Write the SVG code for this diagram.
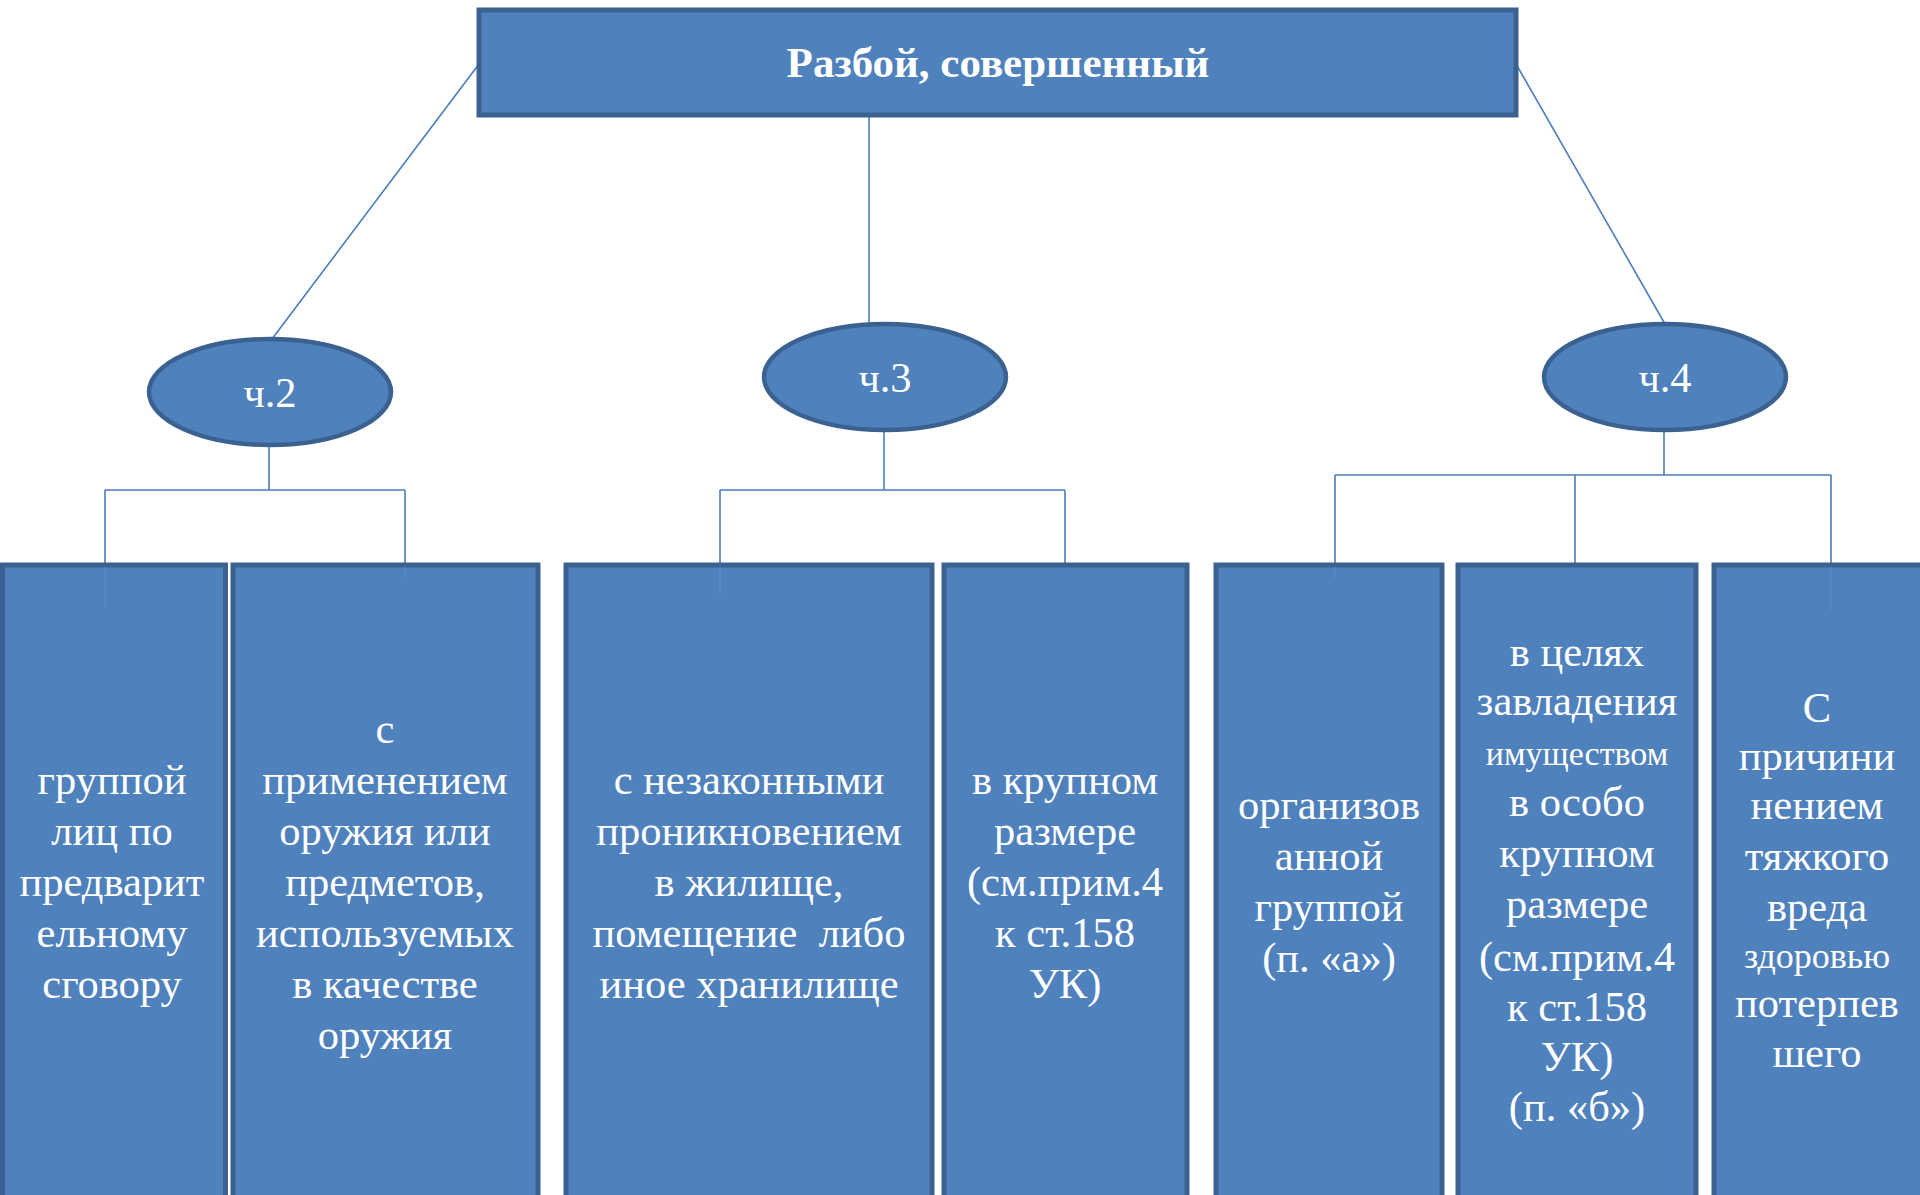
<svg xmlns="http://www.w3.org/2000/svg" width="1920" height="1195" viewBox="0 0 1920 1195">
<style>
.box{fill:#4f81bd;stroke:#3a6190;stroke-width:5}
.ell{fill:#4f81bd;stroke:#3a6190;stroke-width:4.5}
.t{font-family:"Liberation Serif","Times New Roman",serif;font-size:42.5px;fill:#ffffff;text-anchor:middle}
.s{font-size:34px}
.s2{font-size:36px}
.b{font-weight:bold;font-size:43px}
.c{fill:none;stroke:#4a7ebb;stroke-width:1.6}
.f{fill:none;stroke:#6b95c8;stroke-width:1.4;opacity:0.6}
</style>
<rect width="1920" height="1195" fill="#ffffff"/>
<g id="connectors">
<path class="c" d="M479 64 L272 339"/>
<path class="c" d="M869 115 V338"/>
<path class="c" d="M1516 64 L1665 324"/>
<path class="c" d="M269 445 V490 M105 490 H405 M105 490 V565 M405 490 V565"/>
<path class="c" d="M884 431 V490 M720 490 H1065 M720 490 V565 M1065 490 V565"/>
<path class="c" d="M1664 431 V475 M1335 475 H1831 M1335 475 V565 M1575 475 V565 M1831 475 V565"/>
</g>
<g id="root">
<rect class="box" x="479" y="10" width="1037" height="105"/>
<text class="t b" x="998" y="77">Разбой, совершенный</text>
</g>
<g id="ch2">
<ellipse class="ell" cx="270" cy="392" rx="121" ry="53"/>
<text class="t" x="270" y="407">ч.2</text>
</g>
<g id="ch3">
<ellipse class="ell" cx="885" cy="377" rx="121" ry="53"/>
<text class="t" x="885" y="392">ч.3</text>
</g>
<g id="ch4">
<ellipse class="ell" cx="1665" cy="377" rx="121" ry="53"/>
<text class="t" x="1665" y="392">ч.4</text>
</g>
<g id="box1">
<rect class="box" x="2.5" y="565" width="223" height="650"/>
<text class="t"><tspan x="112" y="794">группой</tspan><tspan x="112" y="845">лиц по</tspan><tspan x="112" y="896">предварит</tspan><tspan x="112" y="947">ельному</tspan><tspan x="112" y="998">сговору</tspan></text>
</g>
<g id="box2">
<rect class="box" x="233" y="565" width="305" height="650"/>
<text class="t"><tspan x="385" y="743">с</tspan><tspan x="385" y="794">применением</tspan><tspan x="385" y="845">оружия или</tspan><tspan x="385" y="896">предметов,</tspan><tspan x="385" y="947">используемых</tspan><tspan x="385" y="998">в качестве</tspan><tspan x="385" y="1049">оружия</tspan></text>
</g>
<g id="box3">
<rect class="box" x="566" y="565" width="366" height="650"/>
<text class="t" xml:space="preserve"><tspan x="749" y="794">с незаконными</tspan><tspan x="749" y="845">проникновением</tspan><tspan x="749" y="896">в жилище,</tspan><tspan x="749" y="947">помещение  либо</tspan><tspan x="749" y="998">иное хранилище</tspan></text>
</g>
<g id="box4">
<rect class="box" x="944" y="565" width="243" height="650"/>
<text class="t"><tspan x="1065" y="794">в крупном</tspan><tspan x="1065" y="845">размере</tspan><tspan x="1065" y="896">(см.прим.4</tspan><tspan x="1065" y="947">к ст.158</tspan><tspan x="1065" y="998">УК)</tspan></text>
</g>
<g id="box5">
<rect class="box" x="1216" y="565" width="226" height="650"/>
<text class="t"><tspan x="1329" y="819">организов</tspan><tspan x="1329" y="870">анной</tspan><tspan x="1329" y="921">группой</tspan><tspan x="1329" y="972">(п. «а»)</tspan></text>
</g>
<g id="box6">
<rect class="box" x="1458" y="565" width="238" height="650"/>
<text class="t"><tspan x="1577" y="666">в целях</tspan><tspan x="1577" y="715">завладения</tspan><tspan x="1577" y="765" class="s">имуществом</tspan><tspan x="1577" y="816">в особо</tspan><tspan x="1577" y="867">крупном</tspan><tspan x="1577" y="918">размере</tspan><tspan x="1577" y="971">(см.прим.4</tspan><tspan x="1577" y="1021">к ст.158</tspan><tspan x="1577" y="1071">УК)</tspan><tspan x="1577" y="1121">(п. «б»)</tspan></text>
</g>
<g id="box7">
<rect class="box" x="1714" y="565" width="230" height="650"/>
<text class="t"><tspan x="1817" y="722">С</tspan><tspan x="1817" y="770">причини</tspan><tspan x="1817" y="819">нением</tspan><tspan x="1817" y="870">тяжкого</tspan><tspan x="1817" y="921">вреда</tspan><tspan x="1817" y="968" class="s2">здоровью</tspan><tspan x="1817" y="1017">потерпев</tspan><tspan x="1817" y="1067">шего</tspan></text>
</g>
<g id="connector-tails">
<path class="f" d="M105 567 V608 M405 567 V578 M720 567 V594 M1335 567 V578 M1831 567 V610"/>
</g>
</svg>
